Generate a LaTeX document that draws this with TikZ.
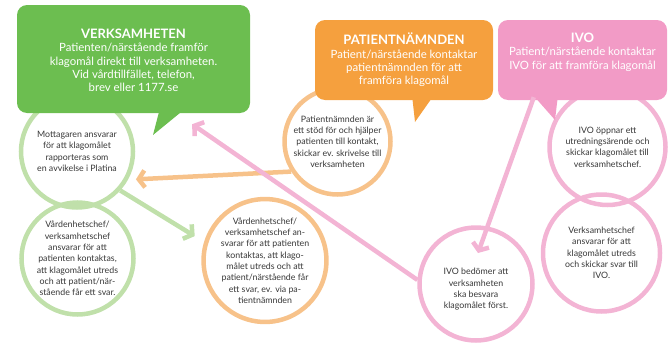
\documentclass[tikz,border=0pt]{standalone}
\usepackage{fontspec}
\setmainfont{Lato}
\usetikzlibrary{arrows.meta}

\definecolor{verkgreen}{RGB}{108,190,80}
\definecolor{verklight}{RGB}{192,224,170}
\definecolor{pnorange}{RGB}{245,160,62}
\definecolor{pnlight}{RGB}{247,194,138}
\definecolor{ivopink}{RGB}{242,155,198}
\definecolor{ivolight}{RGB}{243,180,212}
\definecolor{ringtext}{RGB}{55,55,55}
\newcommand{\headfont}{\fontsize{13}{15}\selectfont\bfseries}

\begin{document}
\begin{tikzpicture}[x=1pt,y=-1pt,
    ring/.style={circle,draw=#1,line width=4.5pt,inner sep=0pt,align=center,
      text=ringtext,font=\fontsize{8.8}{11.3}\selectfont},
    callout/.style={rectangle,rounded corners=10pt,fill=#1,inner sep=0pt},
    callouttext/.style={anchor=north,align=center,text=white,inner sep=0pt,
      font=\fontsize{11.4}{13.3}\selectfont},
    flow/.style={draw=#1,line width=4.5pt,-{Straight Barb[length=6pt,width=17pt]}}]
        \useasboundingbox (0,0) rectangle (669,348);

        \node[ring=verklight,minimum size=112pt] (mott) at (77,151.5)
          {Mottagaren ansvarar\\för att klagomålet\\rapporteras som\\en avvikelse i Platina};
        \node[ring=verklight,minimum size=112pt] (vcgreen) at (77.5,258.5)
          {Vårdenhetschef/\\verksamhetschef\\ansvarar för att\\patienten kontaktas,\\att klagomålet utreds\\och att patient/när-\\stående får ett svar.};
        \node[ring=pnlight,minimum size=106pt] (pnstod) at (337.5,141.5)
          {Patientnämnden är\\ett stöd för och hjälper\\patienten till kontakt,\\skickar ev. skrivelse till\\verksamheten};
        \node[ring=pnlight,minimum size=113pt] (vcorange) at (265,260.5)
          {Vårdenhetschef/\\verksamhetschef an-\\svarar för att patienten\\kontaktas, att klago-\\målet utreds och att\\patient/närstående får\\ett svar, ev. via pa-\\tientnämnden};
        \node[ring=ivolight,minimum size=116pt] (ivooppnar) at (607.5,147)
          {IVO öppnar ett\\utredningsärende och\\skickar klagomålet till\\verksamhetschef.};
        \node[ring=ivolight,minimum size=117pt] (ivosvar) at (601.5,253)
          {Verksamhetschef\\ansvarar för att\\klagomålet utreds\\och skickar svar till\\IVO.};
        \node[ring=ivolight,minimum size=113pt] (ivobedomer) at (476,284)
          {\mbox{}\\[6pt]IVO bedömer att\\verksamheten\\ska besvara\\klagomålet först.};

        \node[callout=verkgreen,minimum width=233pt,minimum height=108pt] (verk) at (133.5,59) {};
        \node[callout=pnorange,minimum width=178pt,minimum height=80pt] (pn) at (404,60) {};
        \node[callout=ivopink,minimum width=169pt,minimum height=80pt] (ivo) at (582.5,60) {};

        \fill[verkgreen] (160,108) -- (153,135) -- (186,108) -- cycle;
        \fill[pnorange] (412,95) -- (415,122) -- (434,95) -- cycle;
        \fill[ivopink] (533,95) -- (555,120) -- (558,95) -- cycle;

        \node[callouttext] at ([yshift=-24pt]verk.north)
          {{\headfont VERKSAMHETEN}\\Patienten/närstående framför\\klagomål direkt till verksamheten.\\Vid vårdtillfället, telefon,\\brev eller 1177.se};
        \node[callouttext] at ([yshift=-13pt]pn.north)
          {{\headfont PATIENTNÄMNDEN}\\Patient/närstående kontaktar\\patientnämnden för att\\framföra klagomål};
        \node[callouttext] at ([yshift=-13pt]ivo.north)
          {{\headfont IVO}\\Patient/närstående kontaktar\\IVO för att framföra klagomål};

        \draw[flow=pnlight,shorten >=8pt] (pnstod.213) -- (mott.-29);
        \draw[flow=verklight,shorten >=11pt] (mott.-42) -- (vcorange.163);
        \draw[flow=ivolight] (ivobedomer.176) -- ([shift={(-58,11)}]verk.south east);
        \draw[flow=ivolight] ([xshift=36pt,yshift=3pt]ivo.south west) -- ([shift={(2,-31)}]ivobedomer.center);
      \end{tikzpicture}
\end{document}
